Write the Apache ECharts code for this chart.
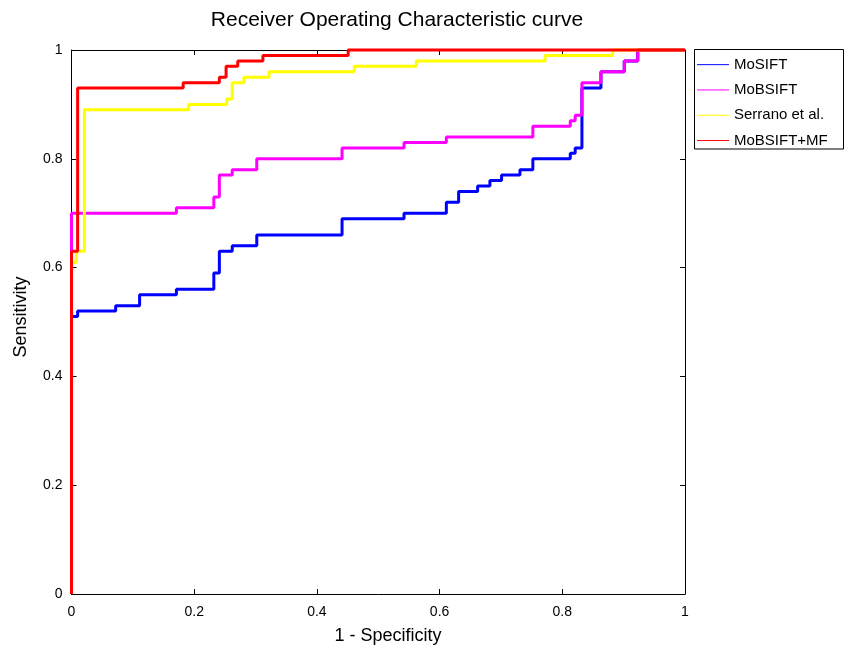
<!DOCTYPE html>
<html>
<head>
<meta charset="utf-8">
<script src="https://cdn.jsdelivr.net/npm/echarts@6/dist/echarts.min.js"></script>
<style>
html,body{margin:0;padding:0;background:#fff;}
#chart{width:845px;height:647px;}
</style>
</head>
<body>
<div id="chart"></div>
<script>
// ---- data (ROC staircase vertices: FPR = 1 - Specificity, TPR = Sensitivity) ----
const seriesNames = ['MoSIFT', 'MoBSIFT', 'Serrano et al.', 'MoBSIFT+MF'];
const seriesColors = ['#0000ff', '#ff00ff', '#ffff00', '#ff0000'];

const mosiftX = [0, 0, 0.01, 0.072, 0.111, 0.171, 0.232, 0.241, 0.262, 0.302, 0.441, 0.542, 0.611, 0.631, 0.662, 0.682, 0.701, 0.731, 0.752, 0.813, 0.821, 0.832, 0.863, 0.901, 0.923, 1];
const mosiftY = [0, 0.51, 0.52, 0.53, 0.55, 0.56, 0.59, 0.63, 0.64, 0.66, 0.69, 0.70, 0.72, 0.74, 0.75, 0.76, 0.77, 0.78, 0.80, 0.81, 0.82, 0.93, 0.96, 0.98, 1.0, 1.0];

const mobsiftX = [0, 0, 0.171, 0.232, 0.241, 0.262, 0.302, 0.441, 0.542, 0.611, 0.752, 0.813, 0.821, 0.832, 0.863, 0.901, 0.923, 1];
const mobsiftY = [0, 0.70, 0.71, 0.73, 0.77, 0.78, 0.80, 0.82, 0.83, 0.84, 0.86, 0.87, 0.88, 0.94, 0.96, 0.98, 1.0, 1.0];

const serranoX = [0, 0, 0.008, 0.021, 0.191, 0.253, 0.262, 0.281, 0.322, 0.461, 0.562, 0.772, 0.882, 1];
const serranoY = [0, 0.61, 0.63, 0.89, 0.90, 0.91, 0.94, 0.95, 0.96, 0.97, 0.98, 0.99, 1.0, 1.0];

const mfX = [0, 0, 0.01, 0.182, 0.241, 0.252, 0.271, 0.312, 0.451, 1];
const mfY = [0, 0.63, 0.93, 0.94, 0.95, 0.97, 0.98, 0.99, 1.0, 1.0];

const xTicks = [0, 0.2, 0.4, 0.6, 0.8, 1];
const yTicks = [0, 0.2, 0.4, 0.6, 0.8, 1];

const titleText = 'Receiver Operating Characteristic curve';
const xName = '1 - Specificity';
const yName = 'Sensitivity';

// ---- build ----
const FONT = '"Liberation Sans", Arial, Helvetica, sans-serif';
const zip = (xs, ys) => xs.map((x, i) => [x, ys[i]]);
const allX = [mosiftX, mobsiftX, serranoX, mfX];
const allY = [mosiftY, mobsiftY, serranoY, mfY];

const G = {left: 71.5, top: 50, width: 613.5, height: 544};

function axisCommon(showLabel, pos) {
  return {
    type: 'value', min: 0, max: 1, interval: 0.2, position: pos,
    axisLine: {show: true, onZero: false, lineStyle: {color: '#000', width: 1}},
    axisTick: {show: true, inside: true, length: 5, lineStyle: {color: '#000', width: 1}},
    axisLabel: {show: showLabel, color: '#000', fontSize: 14, fontFamily: FONT, margin: 9},
    splitLine: {show: false}
  };
}

const chart = echarts.init(document.getElementById('chart'), null, {renderer: 'canvas'});
const option = {
  backgroundColor: '#fff',
  animation: false,
  grid: {left: G.left, top: G.top, width: G.width, height: G.height, containLabel: false},
  xAxis: [
    Object.assign(axisCommon(true, 'bottom'), {axisLabel: {color: '#000', fontSize: 14, fontFamily: FONT, margin: 11}}),
    axisCommon(false, 'top')
  ],
  yAxis: [
    axisCommon(true, 'left'),
    axisCommon(false, 'right')
  ],
  legend: {
    orient: 'vertical', left: 697, top: 57, padding: 0,
    icon: 'rect', itemWidth: 32, itemHeight: 1, itemGap: 10,
    textStyle: {color: '#000', fontSize: 15, fontFamily: FONT, lineHeight: 15.3, padding: [0, 0, 0, 0]},
    data: seriesNames
  },
  graphic: [
    {type: 'rect', shape: {x: 694.5, y: 49.5, width: 149, height: 99.5},
     style: {fill: 'none', stroke: '#000', lineWidth: 1}, z: 100},
    {type: 'text', x: 397, y: 20,
     style: {text: titleText, font: '21px ' + FONT, fill: '#000', textAlign: 'center', textVerticalAlign: 'middle'}},
    {type: 'text', x: 388, y: 636,
     style: {text: xName, font: '18px ' + FONT, fill: '#000', textAlign: 'center', textVerticalAlign: 'middle'}},
    {type: 'text', x: 21, y: 317, rotation: Math.PI / 2,
     style: {text: yName, font: '18px ' + FONT, fill: '#000', textAlign: 'center', textVerticalAlign: 'middle'}}
  ],
  series: seriesNames.map((name, i) => ({
    name: name, type: 'line', step: 'end',
    xAxisIndex: 0, yAxisIndex: 0,
    data: zip(allX[i], allY[i]),
    showSymbol: false, symbol: 'none',
    lineStyle: {color: seriesColors[i], width: 3},
    itemStyle: {color: seriesColors[i]},
    clip: false,
    z: 2 + i
  }))
};
chart.setOption(option);
</script>
</body>
</html>
